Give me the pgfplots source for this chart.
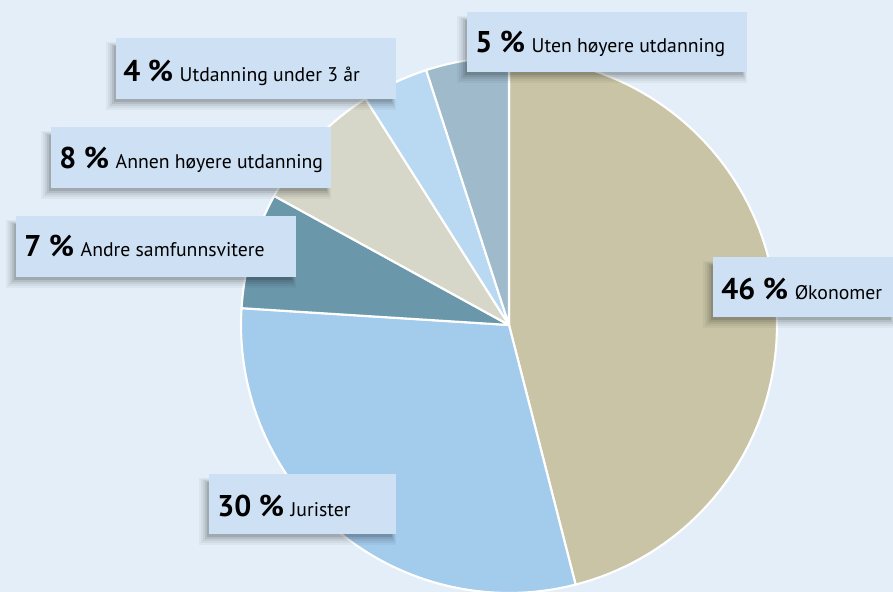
\documentclass[border=0pt]{standalone}
\usepackage{pgfplots}
\pgfplotsset{compat=1.18}
\usepackage{pgfplotstable}
\usepackage{fontspec}
\setmainfont{PT Sans}
\definecolor{bg}{HTML}{E4EEF8}
\definecolor{boxc}{HTML}{CDE0F4}
\definecolor{slice0}{HTML}{C8C4A5}
\definecolor{slice1}{HTML}{A2CBEC}
\definecolor{slice2}{HTML}{6B97AB}
\definecolor{slice3}{HTML}{D6D7C9}
\definecolor{slice4}{HTML}{B9D8F1}
\definecolor{slice5}{HTML}{9EBACB}

\pgfplotstableread[col sep=comma]{
pct,name
46,Økonomer
30,Jurister
7,Andre samfunnsvitere
8,Annen høyere utdanning
4,Utdanning under 3 år
5,Uten høyere utdanning
}\piedata

% #1 left, #2 top, #3 right, #4 bottom (pixels, y down), #5 text x, #6 baseline y, #7 pct, #8 name
\newcommand\labelbox[8]{%
  \fill[black,opacity=0.035] (axis cs:{#1-10},{592-#4-11}) rectangle (axis cs:{#3},{592-#2-4});
  \fill[black,opacity=0.045] (axis cs:{#1-8},{592-#4-9}) rectangle (axis cs:{#3-1},{592-#2-5});
  \fill[black,opacity=0.06] (axis cs:{#1-6},{592-#4-7}) rectangle (axis cs:{#3-2},{592-#2-6});
  \fill[black,opacity=0.08] (axis cs:{#1-4},{592-#4-5}) rectangle (axis cs:{#3-3},{592-#2-7});
  \fill[black,opacity=0.10] (axis cs:{#1-2},{592-#4-3}) rectangle (axis cs:{#3-4},{592-#2-8});
  \fill[boxc] (axis cs:#1,{592-#2}) rectangle (axis cs:#3,{592-#4});
  \node[anchor=base west, inner sep=0pt] at (axis cs:#5,{592-#6})
    {\fontsize{22.5}{22}\selectfont\bfseries #7 \%\hspace{5pt}\fontsize{14.8}{15}\mdseries\selectfont #8};
}

\begin{document}
\begin{tikzpicture}
\begin{axis}[
  width=669.75pt, height=444pt, scale only axis,
  xmin=0, xmax=893, ymin=0, ymax=592,
  hide axis, clip=true,
]
\fill[bg] (axis cs:0,0) rectangle (axis cs:893,592);
\def\cum{0}
\pgfplotsforeachungrouped \i in {0,...,5}{%
  \pgfplotstablegetelem{\i}{pct}\of\piedata
  \let\p\pgfplotsretval
  \pgfmathsetmacro\a{90-3.6*\cum}%
  \pgfmathsetmacro\b{90-3.6*(\cum+\p)}%
  \pgfmathsetmacro\cum{\cum+\p}%
  \edef\doplot{\noexpand\addplot[fill=slice\i, draw=white, line width=1.6pt, line join=round, domain=\b:\a, samples=90, mark=none]
     ({509+268*cos(x)},{267+268*sin(x)}) -- (axis cs:509,267) -- cycle;}%
  \doplot
}
\labelbox{467}{12}{747}{72}{475}{53}{5}{Uten høyere utdanning}
\labelbox{116}{38}{396}{99}{123}{82}{4}{Utdanning under 3 år}
\labelbox{51}{127}{331}{188}{59}{169}{8}{Annen høyere utdanning}
\labelbox{16}{216}{296}{277}{24}{257}{7}{Andre samfunnsvitere}
\labelbox{713}{257}{895}{317}{721}{300}{46}{Økonomer}
\labelbox{209}{474}{396}{534}{217}{517}{30}{Jurister}
\end{axis}
\end{tikzpicture}
\end{document}
